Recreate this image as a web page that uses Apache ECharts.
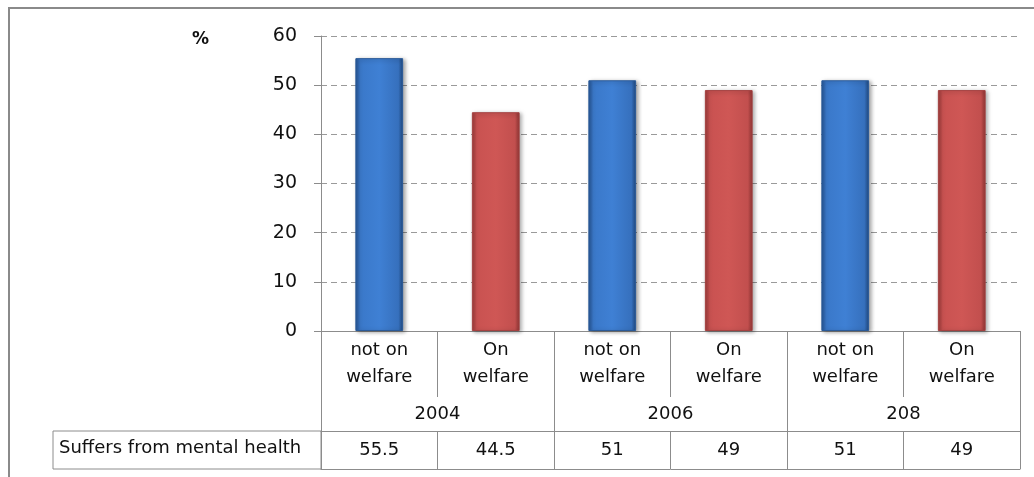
<!DOCTYPE html>
<html>
<head>
<meta charset="utf-8">
<script src="https://cdn.jsdelivr.net/npm/echarts@6/dist/echarts.min.js"></script>
<style>
  html, body { margin: 0; padding: 0; background: #fff; }
  #chart { width: 1034px; height: 477px; }
</style>
</head>
<body>
<div id="chart"></div>
<script>
// data
const groups = ['not on\nwelfare', 'On\nwelfare', 'not on\nwelfare', 'On\nwelfare', 'not on\nwelfare', 'On\nwelfare'];
const years = ['2004', '2006', '208'];
const values = [55.5, 44.5, 51, 49, 51, 49];
const rowName = 'Suffers from mental health';
const yTicks = [0, 10, 20, 30, 40, 50, 60];

const FONT = 'DejaVu Sans';
const LINE = '#8c8c8c';

// bar fills, blue for "not on welfare" and red for "On welfare"
const blueFill = new echarts.graphic.LinearGradient(0, 0, 1, 0, [
    { offset: 0, color: '#24528f' },
    { offset: 0.1, color: '#3a78c9' },
    { offset: 0.5, color: '#3f80d4' },
    { offset: 0.9, color: '#3670bd' },
    { offset: 1, color: '#1f477c' }
]);
const redFill = new echarts.graphic.LinearGradient(0, 0, 1, 0, [
    { offset: 0, color: '#9a3a39' },
    { offset: 0.1, color: '#c95251' },
    { offset: 0.5, color: '#cf5755' },
    { offset: 0.9, color: '#c24f4e' },
    { offset: 1, color: '#8c3332' }
]);

const barData = values.map((v, i) => ({
    value: v,
    itemStyle: {
        color: i % 2 === 0 ? blueFill : redFill,
        borderColor: i % 2 === 0 ? '#2a5a98' : '#a44140',
        borderWidth: 1
    }
}));

const chart = echarts.init(document.getElementById('chart'));

const option = {
    animation: false,
    grid: { left: 321, right: 14, top: 36, bottom: 146 },
    xAxis: [
        {   // sub categories
            type: 'category',
            data: groups,
            position: 'bottom',
            axisLine: { show: true, lineStyle: { color: LINE, width: 1 } },
            axisTick: { show: true, length: 66, lineStyle: { color: LINE } },
            axisLabel: {
                margin: 6,
                fontFamily: FONT, fontSize: 18, color: '#111',
                lineHeight: 27, align: 'center'
            }
        },
        {   // years
            type: 'category',
            data: years,
            position: 'bottom',
            gridIndex: 0,
            axisLine: { show: false },
            axisTick: { show: true, length: 100, lineStyle: { color: LINE } },
            axisLabel: { margin: 74, fontFamily: FONT, fontSize: 18, color: '#111' }
        },
        {   // data table row
            type: 'category',
            data: groups.map((g, i) => String(i)),
            position: 'bottom',
            offset: 100,
            axisLine: { show: true, lineStyle: { color: LINE } },
            axisTick: { show: true, length: 38, lineStyle: { color: LINE } },
            axisLabel: {
                margin: 10,
                fontFamily: FONT, fontSize: 18, color: '#111',
                formatter: (v, i) => String(values[i])
            }
        },
        {   // bottom edge of the table
            type: 'category',
            data: years,
            position: 'bottom',
            offset: 138,
            axisLine: { show: true, lineStyle: { color: LINE } },
            axisTick: { show: false },
            axisLabel: { show: false }
        }
    ],
    yAxis: {
        type: 'value',
        min: yTicks[0],
        max: yTicks[yTicks.length - 1],
        interval: 10,
        axisLine: { show: true, lineStyle: { color: LINE } },
        axisTick: { show: true, length: 7, lineStyle: { color: LINE } },
        axisLabel: { margin: 24, fontFamily: FONT, fontSize: 19, color: '#111' },
        splitLine: { show: true, lineStyle: { color: '#9a9a9a', type: [6, 4] } }
    },
    series: [{
        type: 'bar',
        xAxisIndex: 0,
        data: barData,
        barWidth: '41%',
        itemStyle: {
            shadowBlur: 4,
            shadowColor: 'rgba(0,0,0,0.35)',
            shadowOffsetX: 2,
            shadowOffsetY: 1
        }
    }],
    graphic: [
        {   // outer frame
            type: 'polyline',
            shape: { points: [[9, 480], [9, 8], [1040, 8]] },
            style: { fill: null, stroke: '#8a8a8a', lineWidth: 2 }
        },
        {
            type: 'text',
            left: 192, top: 31,
            style: { text: '%', font: 'bold 17px "DejaVu Sans"', fill: '#111' }
        },
        {   // header cell of the data row
            type: 'rect',
            shape: { x: 53, y: 431, width: 268, height: 38 },
            style: { fill: null, stroke: LINE, lineWidth: 1 }
        },
        {
            type: 'text',
            left: 59, top: 439,
            style: { text: rowName, font: '18px "DejaVu Sans"', fill: '#111' }
        }
    ]
};

chart.setOption(option);
</script>
</body>
</html>
